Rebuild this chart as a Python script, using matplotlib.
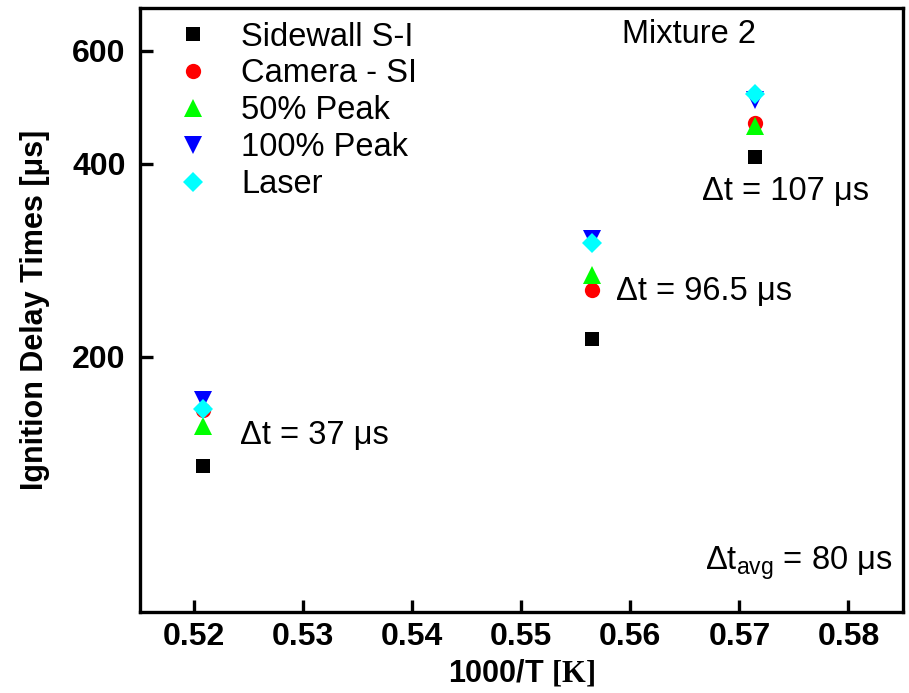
import matplotlib
matplotlib.use("Agg")
import matplotlib.pyplot as plt

plt.rcParams['font.family'] = ['Liberation Sans', 'DejaVu Sans']
plt.rcParams['mathtext.fontset'] = 'custom'
plt.rcParams['mathtext.rm'] = 'Liberation Sans'
plt.rcParams['mathtext.it'] = 'Liberation Sans:italic'
plt.rcParams['mathtext.bf'] = 'Liberation Serif:bold'

# Data (1000/T in 1/K, ignition delay in microseconds)
x_vals = [0.5208, 0.5565, 0.5714]
sidewall = [135, 213, 409]
camera = [165, 254, 462]
peak50 = [156, 268, 458]
peak100 = [171, 305, 502]
laser = [166, 301, 514]

series_names = ["Sidewall S-I", "Camera - SI", "50% Peak", "100% Peak", "Laser"]
y_ticks = [200, 400, 600]
x_ticks = [0.52, 0.53, 0.54, 0.55, 0.56, 0.57, 0.58]

fig = plt.figure(figsize=(9.09, 6.93), dpi=100)
ax = fig.add_axes([0.1535, 0.1169, 0.8399, 0.872])

styles = [
    dict(marker='s', color='#000000', ms=9.5),
    dict(marker='o', color='#FF0000', ms=11),
    dict(marker='^', color='#00FF00', ms=12.5),
    dict(marker='v', color='#0000FF', ms=12.5),
    dict(marker='D', color='#00FFFF', ms=10),
]
for name, vals, st in zip(series_names, [sidewall, camera, peak50, peak100, laser], styles):
    ax.plot(x_vals, vals, linestyle='none', marker=st['marker'], color=st['color'],
            markersize=st['ms'], markeredgewidth=0, label=name)

ax.set_yscale('log')
ax.set_xlim(0.515, 0.585)
ax.set_ylim(80, 700)
ax.set_yticks(y_ticks)
ax.set_yticklabels([str(v) for v in y_ticks])
ax.yaxis.set_minor_locator(matplotlib.ticker.NullLocator())
ax.set_xticks(x_ticks)
ax.set_xticklabels([f"{v:.2f}" for v in x_ticks])

for s in ax.spines.values():
    s.set_linewidth(2.4)
ax.tick_params(axis='both', which='major', direction='in', length=9, width=2.4,
               labelsize=23)
ax.tick_params(axis='x', pad=7)
ax.tick_params(axis='y', pad=10)
for lab in ax.get_xticklabels() + ax.get_yticklabels():
    lab.set_fontweight('bold')

ax.set_ylabel("Ignition Delay Times [μs]", fontsize=22, fontweight='bold')
ax.yaxis.set_label_coords(-0.117, 0.5)
ax.set_xlabel(r"1000/T $\mathbf{[K]}$", fontsize=22, fontweight='bold')
ax.xaxis.set_label_coords(0.5, -0.076)

leg = ax.legend(loc='upper left', bbox_to_anchor=(0.038, 0.977), frameon=False,
                fontsize=23.5, handlelength=1.5, handletextpad=0.72,
                labelspacing=0.18, borderaxespad=0, borderpad=0, numpoints=1)

txt_kw = dict(transform=ax.transAxes, fontsize=23.5, va='baseline', ha='left')
ax.text(0.6316, 0.9411, "Mixture 2", **txt_kw)
ax.text(0.1316, 0.278, "Δt = 37 μs", **txt_kw)
ax.text(0.6237, 0.5163, "Δt = 96.5 μs", **txt_kw)
ax.text(0.7363, 0.6818, "Δt = 107 μs", **txt_kw)
ax.text(0.7406, 0.0695, r"Δ$\mathrm{t}_{\mathrm{avg}}$ = 80 μs", **txt_kw)

fig.savefig("out.png", dpi=100)
